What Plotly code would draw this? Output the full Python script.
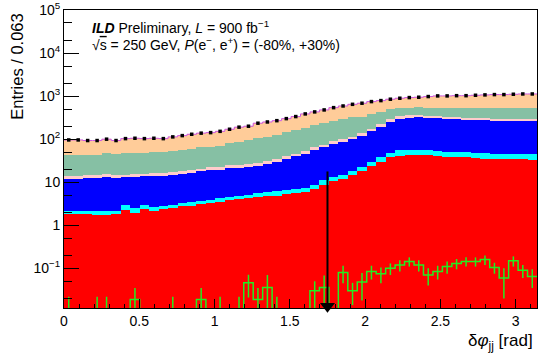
import numpy as np
import plotly.graph_objects as go

# ---------------- data ----------------
n_bins = 50
x_max = np.pi
bin_label = "0.063"

red = [1.85, 1.85, 1.82, 1.75, 1.75, 1.85, 2.3, 1.98, 2.42, 2.2,
       2.37, 2.5, 2.74, 2.88, 3.1, 3.27, 3.57, 3.77, 4.05, 4.27,
       4.5, 4.7, 4.9, 5.2, 5.5, 5.9, 6.8, 8.7, 10.5, 11.7,
       14.8, 17.8, 24, 30, 38, 41.7, 43.6, 43.6, 43, 40,
       39, 38, 38, 37, 35, 34.5, 34, 34, 34, 33]
cyan = [0.32, 0.32, 0.35, 0.42, 0.42, 0.32, 0.7, 0.52, 0.58, 0.4,
        0.43, 0.5, 0.56, 0.62, 0.6, 0.68, 0.75, 0.8, 0.85, 0.9,
        1.0, 1.1, 1.2, 1.3, 1.4, 1.5, 2.0, 2.3, 2.7, 3.1,
        3.6, 4.8, 6.2, 8, 9.3, 13, 12.6, 12.6, 12.5, 12.5,
        12.5, 12.5, 12.3, 12, 11.7, 11.6, 11.5, 11.5, 11.5, 11.3]
blue = [9.6, 10.0, 10.2, 10.2, 10.9, 10.7, 9.9, 10.9, 10.6, 11.5,
        11.3, 11.9, 12.4, 13.3, 14.1, 15.0, 15.1, 16.6, 16.6, 17.2,
        18.5, 20.9, 24.1, 27.9, 32.9, 38.3, 47.2, 53.6, 64.4, 73.2,
        81.6, 95.4, 120.8, 157, 209.7, 254.3, 267.8, 273.8, 268.5, 267.5,
        248.5, 244.5, 239.7, 236, 233.3, 228.9, 229.5, 226.5, 226.5, 225.7]
pink = [2.0, 2.1, 2.1, 2.1, 2.2, 2.2, 2.2, 2.3, 2.3, 2.4,
        2.4, 2.5, 2.7, 2.9, 3.0, 3.2, 3.2, 3.5, 3.5, 3.6,
        3.9, 4.3, 4.8, 5.5, 6.3, 7.2, 8.8, 10.1, 12, 13.5,
        15, 17.5, 21, 25, 30, 33, 32, 32, 30, 29,
        27, 26, 25, 25, 24, 24, 24, 23, 23, 23]
green = [29.2, 27.7, 27.5, 27.5, 33.7, 30.9, 31.9, 31.3, 33.1, 33.5,
         33.5, 34.6, 37.6, 40.3, 44.2, 44.8, 47.4, 56.3, 63, 70,
         77.1, 80, 91, 103.1, 117.9, 133.1, 149.2, 160.3, 176.4, 188.5,
         209, 199.5, 217, 217, 213, 188, 184, 183, 186, 191,
         208, 209, 215, 220, 226, 231, 229, 233, 235, 237]
peach = [53, 54, 51, 51, 51, 47, 56, 58, 54, 55,
         53, 61, 65, 70, 73, 75, 82, 89, 102, 104,
         130, 140, 143, 157, 171, 200, 216, 243, 274, 300,
         321, 349, 357, 350, 347, 363, 385, 397, 437, 471,
         476, 494, 494, 517, 537, 555, 557, 577, 592, 592]
signal = [0.011, 0, 0, 0.011, 0.011, 0, 0, 0.019, 0, 0,
          0, 0.011, 0, 0, 0.019, 0, 0.011, 0, 0.011, 0.046,
          0.019, 0.036, 0.011, 0, 0, 0, 0.03, 0.036, 0, 0.08,
          0.03, 0.048, 0.085, 0.075, 0.10, 0.12, 0.145, 0.12, 0.07, 0.085,
          0.11, 0.13, 0.145, 0.145, 0.16, 0.105, 0.06, 0.15, 0.09, 0.065]
signal_err = [0.011, 0, 0, 0.011, 0.011, 0, 0, 0.016, 0, 0,
              0, 0.011, 0, 0, 0.016, 0, 0.011, 0, 0.011, 0.025,
              0.016, 0.034, 0.011, 0, 0, 0, 0.02, 0.032, 0, 0.035,
              0.016, 0.03, 0.03, 0.03, 0.03, 0.035, 0.035, 0.035, 0.03, 0.03,
              0.035, 0.035, 0.035, 0.035, 0.04, 0.03, 0.04, 0.04, 0.03, 0.03]
cut_value = 1.75
arrow_top = 17.8

y_min, y_max = 0.012, 1e5

# ---------------- derived ----------------
edges = np.linspace(0, x_max, n_bins + 1)
centers = 0.5 * (edges[:-1] + edges[1:])
width = edges[1] - edges[0]
layers = [("red", red, "#ff0000"), ("cyan", cyan, "#00ffff"),
          ("blue", blue, "#0000ff"), ("pink", pink, "#ffcccc"),
          ("green", green, "#86c0a4"), ("peach", peach, "#ffcc99")]
total = np.sum([np.array(v) for _, v, _ in layers], axis=0)

fig = go.Figure()
for name, vals, col in layers:
    fig.add_trace(go.Bar(x=centers, y=vals, width=width, marker_color=col,
                         marker_line_width=0, name=name, showlegend=False))

# thin magenta outline of the stack
fig.add_trace(go.Scatter(x=edges, y=list(total) + [total[-1]], mode="lines",
                         line=dict(shape="hv", color="#cc55dd", width=1),
                         showlegend=False))

# signal histogram (green) with error bars
floor = y_min * 0.3
sig_draw = [v if v > 0 else floor for v in signal]
fig.add_trace(go.Scatter(x=edges, y=sig_draw + [sig_draw[-1]], mode="lines",
                         line=dict(shape="hv", color="#22ee22", width=1.5),
                         showlegend=False))
mask = [i for i, v in enumerate(signal) if v > 0]
fig.add_trace(go.Scatter(x=centers[mask], y=[signal[i] for i in mask], mode="markers",
                         marker=dict(size=1, color="#22ee22"),
                         error_y=dict(type="data", array=[signal_err[i] for i in mask],
                                      color="#22ee22", thickness=1.5, width=0),
                         showlegend=False))

# data points
fig.add_trace(go.Scatter(x=centers, y=total, mode="markers",
                         marker=dict(symbol="square", size=3.5, color="black"),
                         showlegend=False))

# cut arrow
tip = 10 ** (np.log10(y_min) + 0.04)
fig.add_trace(go.Scatter(x=[cut_value, cut_value], y=[arrow_top, tip], mode="lines",
                         line=dict(color="black", width=2), showlegend=False,
                         cliponaxis=False))
fig.add_trace(go.Scatter(x=[cut_value], y=[tip], mode="markers",
                         marker=dict(symbol="triangle-down", size=13, color="black"),
                         showlegend=False, cliponaxis=False))

font = "Liberation Sans, Arial, sans-serif"
fig.update_layout(
    width=538, height=362,
    margin=dict(l=64, r=1, t=10, b=54),
    barmode="stack", bargap=0,
    paper_bgcolor="white", plot_bgcolor="white",
    font=dict(family=font, size=14, color="black"),
    showlegend=False,
)
fig.update_xaxes(range=[0, x_max], tick0=0, dtick=0.5, ticks="inside", ticklen=9,
                 tickcolor="black", showline=True, linecolor="black", linewidth=1,
                 mirror=True, showgrid=False, zeroline=False,
                 minor=dict(ticks="inside", ticklen=4.5, dtick=0.1, tickcolor="black",
                            showgrid=False),
                 tickfont=dict(size=14))
fig.update_yaxes(type="log", range=[np.log10(y_min), np.log10(y_max)],
                 tickvals=[0.1, 1, 10, 100, 1e3, 1e4, 1e5],
                 ticktext=["10<sup>\u22121</sup>", "1", "10", "10<sup>2</sup>",
                           "10<sup>3</sup>", "10<sup>4</sup>", "10<sup>5</sup>"],
                 ticks="inside", ticklen=15, tickcolor="black",
                 showline=True, linecolor="black", linewidth=1, mirror=True,
                 showgrid=False, zeroline=False,
                 minor=dict(ticks="inside", ticklen=8, tickcolor="black", showgrid=False),
                 tickfont=dict(size=14))

fig.add_annotation(text="<b><i>ILD</i></b> Preliminary, <i>L</i> = 900 fb<sup>\u22121</sup>",
                   xref="paper", yref="paper", x=0.055, y=0.944,
                   xanchor="left", yanchor="middle", showarrow=False,
                   font=dict(size=14))
fig.add_annotation(text="\u221a<span style='text-decoration:overline'>s</span> = 250 GeV, "
                        "<i>P</i>(e<sup>\u2212</sup>, e<sup>+</sup>) = (-80%, +30%)",
                   xref="paper", yref="paper", x=0.055, y=0.886,
                   xanchor="left", yanchor="middle", showarrow=False,
                   font=dict(size=14))
fig.add_annotation(text="Entries / " + bin_label, textangle=-90,
                   xref="paper", yref="paper", x=(17.5 - 64) / 473, y=0.808,
                   xanchor="center", yanchor="middle", showarrow=False,
                   font=dict(size=16.5))
fig.add_annotation(text="\u03b4<i>\u03c6</i><sub>jj</sub> [rad]",
                   xref="paper", yref="paper", x=(535 - 64) / 473, y=-0.113,
                   xanchor="right", yanchor="middle", showarrow=False,
                   font=dict(size=17))

fig.write_html("out.html", config={"displayModeBar": False},
               post_script="document.body.style.margin='0';document.body.style.padding='0';"
                           "document.documentElement.style.overflow='hidden';")
